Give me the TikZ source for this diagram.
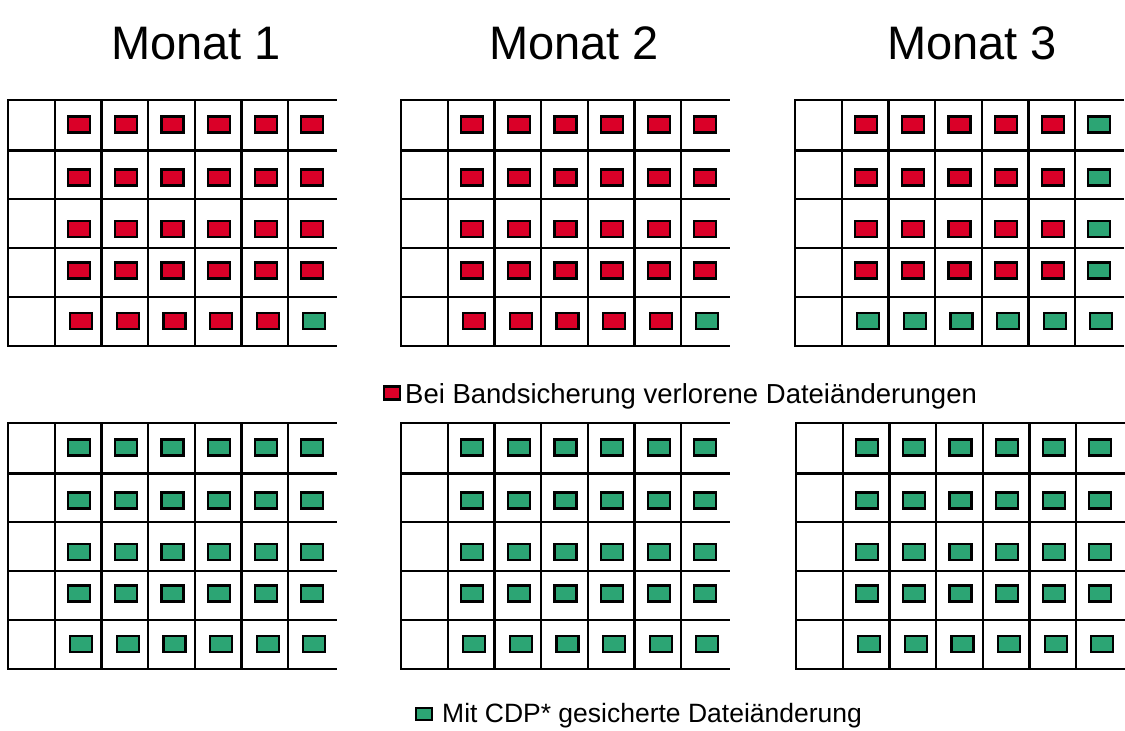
\documentclass[tikz,border=0pt]{standalone}
\usepackage{fontspec}
\setmainfont{Liberation Sans}
\definecolor{lost}{RGB}{218,0,40}
\definecolor{saved}{RGB}{44,165,116}
\tikzset{
  gridline/.style={line width=2.4bp, draw=black, line cap=rect},
  cellbox/.style={draw=black, line width=2.2bp, minimum width=22bp, minimum height=16bp, inner sep=0pt, outer sep=0pt},
  titletext/.style={font=\fontsize{47bp}{56bp}\selectfont, anchor=base, inner sep=0pt},
  legendtext/.style={font=\fontsize{26.5bp}{31bp}\selectfont, anchor=base west, inner sep=0pt}
}
% #1 name, #2 left x, #3 top y, #4 pattern type
\newcommand\monatgrid[4]{%
  \begin{scope}[shift={(#2,#3)}]
    \foreach \hy in {0,50.5,99,148,197,246}
      \draw[gridline] (0,\hy) -- (328,\hy);
    \draw[gridline] (0,0) -- (0,246);
    \foreach \k in {0,...,5}
      \draw[gridline] ({47+46.6*\k},0) -- ({47+46.6*\k},246);
    \foreach \r/\ry in {1/24.5,2/77.5,3/129,4/170.5,5/221}{
      \foreach \c in {1,...,6}{
        \pgfmathtruncatemacro\isgreen{((#4==3) || ((#4==2) && ((\r==5) || (\c==6))) || ((#4==1) && (\r==5) && (\c==6))) ? 1 : 0}
        \ifnum\isgreen=1 \def\boxcol{saved}\else\def\boxcol{lost}\fi
        \pgfmathsetmacro\cx{47+46.6*(\c-1)+23.3+(\r==5 ? 3 : 1)}
        \node[cellbox, fill=\boxcol] (#1-\r-\c) at (\cx,\ry) {};
      }
    }
  \end{scope}
}
\begin{document}
\begin{tikzpicture}[x=1bp,y=-1bp]
  \useasboundingbox (0,0) rectangle (1125,731);
  \node[titletext] (t1) at (196,60) {Monat 1};
  \node[titletext] (t2) at (574,60) {Monat 2};
  \node[titletext] (t3) at (972,60) {Monat 3};
  \monatgrid{a}{8}{100}{1}
  \monatgrid{b}{401}{100}{1}
  \monatgrid{c}{795}{100}{2}
  \monatgrid{d}{8}{423}{3}
  \monatgrid{e}{401}{423}{3}
  \monatgrid{f}{796}{423}{3}
  \node[cellbox, fill=lost, minimum width=16bp, minimum height=13bp] (leg1box) at (392,393) {};
  \node[legendtext, font=\fontsize{27.5bp}{32bp}\selectfont] (leg1) at (405,403) {Bei Bandsicherung verlorene Dateiänderungen};
  \node[cellbox, fill=saved, minimum width=16bp, minimum height=12bp] (leg2box) at (424,714) {};
  \node[legendtext] (leg2) at (442,722) {Mit CDP* gesicherte Dateiänderung};
\end{tikzpicture}
\end{document}
